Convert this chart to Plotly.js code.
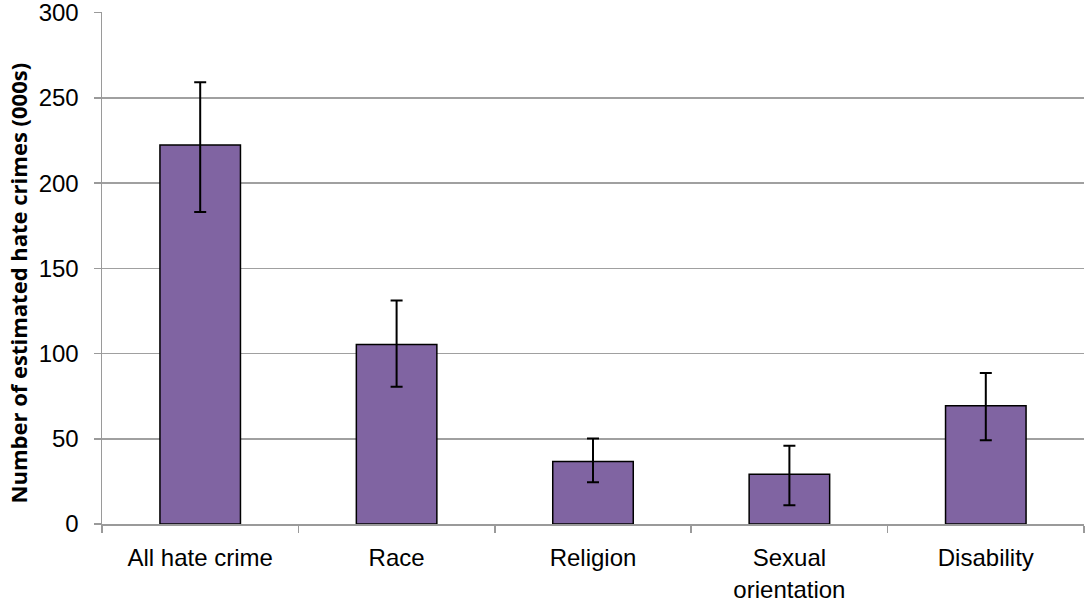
<!DOCTYPE html>
<html>
<head>
<meta charset="utf-8">
<script src="https://cdn.plot.ly/plotly-3.0.1.min.js"></script>
<style>html,body{margin:0;padding:0;background:#fff;}#chart{width:1086px;height:601px;}</style>
</head>
<body>
<div id="chart"></div>
<script>
const categories = ["All hate crime", "Race", "Religion", "Sexual<br>orientation", "Disability"];
const values = [222.4, 105.3, 36.7, 29.2, 69.4];
const errPlus = [36.8, 25.9, 13.5, 16.7, 19.2];
const errMinus = [39.3, 24.7, 12.2, 18.2, 20.2];
const yTicks = [0, 50, 100, 150, 200, 250, 300];
const yTitle = 'Number of estimated hate crimes (000s)';

const trace = {
  type: 'bar',
  x: categories,
  y: values,
  marker: {color: '#8064A2', line: {color: '#000000', width: 1.5}},
  error_y: {type: 'data', symmetric: false, array: errPlus, arrayminus: errMinus,
            color: '#000000', thickness: 2, width: 6},
  hoverinfo: 'x+y'
};

const layout = {
  width: 1086, height: 601,
  margin: {l: 102, r: 2, t: 12, b: 77},
  paper_bgcolor: '#ffffff', plot_bgcolor: '#ffffff',
  bargap: 0.59,
  showlegend: false,
  font: {family: 'Liberation Sans, Arial, sans-serif', color: '#000', size: 24},
  xaxis: {
    showgrid: false,
    showline: true, linecolor: '#9a9a9a', linewidth: 1.5,
    ticks: 'outside', tickson: 'boundaries', ticklen: 7, tickcolor: '#9a9a9a', tickwidth: 1.5,
    ticklabelstandoff: 12,
    tickfont: {size: 24, family: 'Liberation Sans, Arial, sans-serif'}
  },
  yaxis: {
    range: [0, 300.4], tickvals: yTicks, ticktext: yTicks.map(String),
    showgrid: true, gridcolor: '#a0a0a0', gridwidth: 1.5,
    showline: true, linecolor: '#9a9a9a', linewidth: 1.5,
    ticks: 'outside', ticklen: 7, tickcolor: '#9a9a9a', tickwidth: 1.5,
    ticklabelstandoff: 10,
    ticklabeloverflow: 'allow',
    zeroline: false,
    tickfont: {size: 24, family: 'Liberation Sans, Arial, sans-serif'}
  },
  annotations: [{
    text: yTitle, textangle: -90, showarrow: false,
    xref: 'paper', yref: 'paper', x: -0.0855, y: 0.47,
    xanchor: 'center', yanchor: 'middle',
    font: {size: 22, family: 'Liberation Sans Narrow, Open Sans, sans-serif', weight: 'bold', color: '#000'}
  }]
};

Plotly.newPlot('chart', [trace], layout, {displayModeBar: false, staticPlot: true});
</script>
</body>
</html>
